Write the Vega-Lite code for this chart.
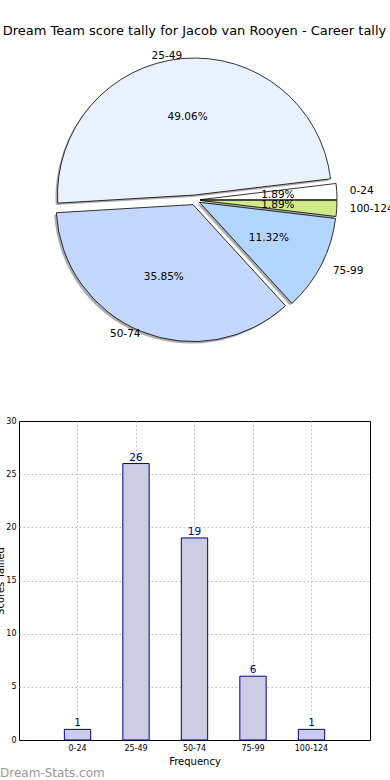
{
  "$schema": "https://vega.github.io/schema/vega-lite/v6.json",
  "padding": {"left": -5, "top": 24, "right": 0, "bottom": 0},
  "title": {"text": "Dream Team score tally for Jacob van Rooyen - Career tally", "font": "DejaVu Sans", "fontSize": 13, "fontWeight": "normal", "anchor": "middle", "color": "black", "offset": 3},
  "config": {"view": {"stroke": null}, "font": "DejaVu Sans"},
  "datasets": {
    "tally": [
      {"bin": "0-24", "idx": 0, "n": 1, "share": 0.0189},
      {"bin": "25-49", "idx": 1, "n": 26, "share": 0.4906},
      {"bin": "50-74", "idx": 2, "n": 19, "share": 0.3585},
      {"bin": "75-99", "idx": 3, "n": 6, "share": 0.1132},
      {"bin": "100-124", "idx": 4, "n": 1, "share": 0.0189}
    ]
  },
  "spacing": 66,
  "vconcat": [
    {
      "width": 352,
      "height": 290,
      "data": {"name": "tally"},
      "layer": [
        {"transform": [{"stack": "n", "groupby": [], "sort": [{"field": "idx", "order": "ascending"}], "as": ["t0", "t1"]}, {"filter": "datum.idx == 0"}],
         "mark": {"type": "arc", "outerRadius": 137, "xOffset": 3, "yOffset": 2, "fill": "#8a8a8a", "opacity": 0.7},
         "encoding": {"theta": {"field": "t0", "type": "quantitative", "scale": {"domain": [0, 53], "range": [1.5708, -4.7124]}}, "theta2": {"field": "t1"}}},
        {"transform": [{"stack": "n", "groupby": [], "sort": [{"field": "idx", "order": "ascending"}], "as": ["t0", "t1"]}, {"filter": "datum.idx == 1"}],
         "mark": {"type": "arc", "outerRadius": 137, "xOffset": -2.5, "yOffset": -3, "fill": "#8a8a8a", "opacity": 0.7},
         "encoding": {"theta": {"field": "t0", "type": "quantitative", "scale": {"domain": [0, 53], "range": [1.5708, -4.7124]}}, "theta2": {"field": "t1"}}},
        {"transform": [{"stack": "n", "groupby": [], "sort": [{"field": "idx", "order": "ascending"}], "as": ["t0", "t1"]}, {"filter": "datum.idx == 2"}],
         "mark": {"type": "arc", "outerRadius": 137, "xOffset": -4, "yOffset": 6.6, "fill": "#8a8a8a", "opacity": 0.7},
         "encoding": {"theta": {"field": "t0", "type": "quantitative", "scale": {"domain": [0, 53], "range": [1.5708, -4.7124]}}, "theta2": {"field": "t1"}}},
        {"transform": [{"stack": "n", "groupby": [], "sort": [{"field": "idx", "order": "ascending"}], "as": ["t0", "t1"]}, {"filter": "datum.idx == 3"}],
         "mark": {"type": "arc", "outerRadius": 137, "xOffset": 2.5, "yOffset": 4.3, "fill": "#8a8a8a", "opacity": 0.7},
         "encoding": {"theta": {"field": "t0", "type": "quantitative", "scale": {"domain": [0, 53], "range": [1.5708, -4.7124]}}, "theta2": {"field": "t1"}}},
        {"transform": [{"stack": "n", "groupby": [], "sort": [{"field": "idx", "order": "ascending"}], "as": ["t0", "t1"]}, {"filter": "datum.idx == 4"}],
         "mark": {"type": "arc", "outerRadius": 137, "xOffset": 3, "yOffset": 2.3, "fill": "#8a8a8a", "opacity": 0.7},
         "encoding": {"theta": {"field": "t0", "type": "quantitative", "scale": {"domain": [0, 53], "range": [1.5708, -4.7124]}}, "theta2": {"field": "t1"}}},

        {"transform": [{"stack": "n", "groupby": [], "sort": [{"field": "idx", "order": "ascending"}], "as": ["t0", "t1"]}, {"filter": "datum.idx == 0"}],
         "mark": {"type": "arc", "outerRadius": 137, "xOffset": 5, "yOffset": -0.3, "fill": "#ffffff", "stroke": "#000000", "strokeWidth": 0.8},
         "encoding": {"theta": {"field": "t0", "type": "quantitative", "scale": {"domain": [0, 53], "range": [1.5708, -4.7124]}}, "theta2": {"field": "t1"}}},
        {"transform": [{"stack": "n", "groupby": [], "sort": [{"field": "idx", "order": "ascending"}], "as": ["t0", "t1"]}, {"filter": "datum.idx == 1"}],
         "mark": {"type": "arc", "outerRadius": 137, "xOffset": -0.5, "yOffset": -5, "fill": "#ebf2ff", "stroke": "#000000", "strokeWidth": 0.8},
         "encoding": {"theta": {"field": "t0", "type": "quantitative", "scale": {"domain": [0, 53], "range": [1.5708, -4.7124]}}, "theta2": {"field": "t1"}}},
        {"transform": [{"stack": "n", "groupby": [], "sort": [{"field": "idx", "order": "ascending"}], "as": ["t0", "t1"]}, {"filter": "datum.idx == 2"}],
         "mark": {"type": "arc", "outerRadius": 137, "xOffset": -2, "yOffset": 4.6, "fill": "#c4d8ff", "stroke": "#000000", "strokeWidth": 0.8},
         "encoding": {"theta": {"field": "t0", "type": "quantitative", "scale": {"domain": [0, 53], "range": [1.5708, -4.7124]}}, "theta2": {"field": "t1"}}},
        {"transform": [{"stack": "n", "groupby": [], "sort": [{"field": "idx", "order": "ascending"}], "as": ["t0", "t1"]}, {"filter": "datum.idx == 3"}],
         "mark": {"type": "arc", "outerRadius": 137, "xOffset": 4.5, "yOffset": 2.3, "fill": "#b3d6ff", "stroke": "#000000", "strokeWidth": 0.8},
         "encoding": {"theta": {"field": "t0", "type": "quantitative", "scale": {"domain": [0, 53], "range": [1.5708, -4.7124]}}, "theta2": {"field": "t1"}}},
        {"transform": [{"stack": "n", "groupby": [], "sort": [{"field": "idx", "order": "ascending"}], "as": ["t0", "t1"]}, {"filter": "datum.idx == 4"}],
         "mark": {"type": "arc", "outerRadius": 137, "xOffset": 5, "yOffset": 0.3, "fill": "#d0ea8a", "stroke": "#000000", "strokeWidth": 0.8},
         "encoding": {"theta": {"field": "t0", "type": "quantitative", "scale": {"domain": [0, 53], "range": [1.5708, -4.7124]}}, "theta2": {"field": "t1"}}},

        {"mark": {"type": "text", "radius": 83, "fontSize": 10.5, "font": "DejaVu Sans", "color": "#000000"},
         "encoding": {"theta": {"field": "n", "type": "quantitative", "stack": true, "scale": {"domain": [0, 53], "range": [1.5708, -4.7124]}}, "order": {"field": "idx"}, "text": {"field": "share", "type": "quantitative", "format": ".2%"}}},
        {"mark": {"type": "text", "radius": 145, "fontSize": 10.5, "font": "DejaVu Sans", "color": "#000000", "align": "right"},
         "encoding": {"theta": {"field": "n", "type": "quantitative", "stack": true, "scale": {"domain": [0, 53], "range": [1.5708, -4.7124]}}, "order": {"field": "idx"}, "text": {"condition": {"test": "datum.idx == 1 || datum.idx == 2", "field": "bin"}, "value": ""}}},
        {"mark": {"type": "text", "radius": 155, "fontSize": 10.5, "font": "DejaVu Sans", "color": "#000000", "align": "left"},
         "encoding": {"theta": {"field": "n", "type": "quantitative", "stack": true, "scale": {"domain": [0, 53], "range": [1.5708, -4.7124]}}, "order": {"field": "idx"}, "text": {"condition": {"test": "datum.idx == 0 || datum.idx == 3 || datum.idx == 4", "field": "bin"}, "value": ""}}}
      ]
    },
    {
      "width": 351,
      "height": 319,
      "view": {"stroke": "#000000", "strokeWidth": 1},
      "title": {"text": "Dream-Stats.com", "orient": "bottom", "anchor": "start", "frame": "group", "color": "#999999", "fontSize": 12, "fontWeight": "normal", "font": "DejaVu Sans", "dx": -19, "offset": 2},
      "data": {"name": "tally"},
      "encoding": {
        "x": {"field": "bin", "type": "nominal", "sort": ["0-24", "25-49", "50-74", "75-99", "100-124"],
              "scale": {"paddingInner": 0.55, "paddingOuter": 0.775},
              "axis": {"title": "Frequency", "titleFont": "DejaVu Sans", "titleFontSize": 10, "titleFontWeight": "normal", "titleColor": "#000000", "titlePadding": 4,
                       "labelAngle": 0, "labelFontSize": 8, "labelFont": "DejaVu Sans", "labelColor": "#000000", "labelPadding": 4,
                       "ticks": false, "domain": false, "grid": true, "gridColor": "#bbbbbb", "gridDash": [1.5, 2.5], "bandPosition": 0.5}},
        "y": {"field": "n", "type": "quantitative",
              "scale": {"domain": [0, 30]},
              "axis": {"title": "Scores Tallied", "titleFont": "DejaVu Sans", "titleFontSize": 10, "titleFontWeight": "normal", "titleColor": "#000000", "titlePadding": 0,
                       "values": [0, 5, 10, 15, 20, 25, 30], "labelFontSize": 8, "labelFont": "DejaVu Sans", "labelColor": "#000000", "labelPadding": 3,
                       "ticks": false, "domain": false, "grid": true, "gridColor": "#bbbbbb", "gridDash": [1.5, 2.5],
                       "gridOpacity": {"condition": {"test": "datum.value == 30 || datum.value == 0", "value": 0}, "value": 1}}}
      },
      "layer": [
        {"mark": {"type": "bar", "fill": "#ccccE5", "stroke": "#000080", "strokeWidth": 1}},
        {"mark": {"type": "text", "baseline": "bottom", "dy": -1, "fontSize": 10.5, "font": "DejaVu Sans", "color": "#000080"},
         "encoding": {"text": {"field": "n", "type": "quantitative"}}}
      ]
    }
  ]
}
